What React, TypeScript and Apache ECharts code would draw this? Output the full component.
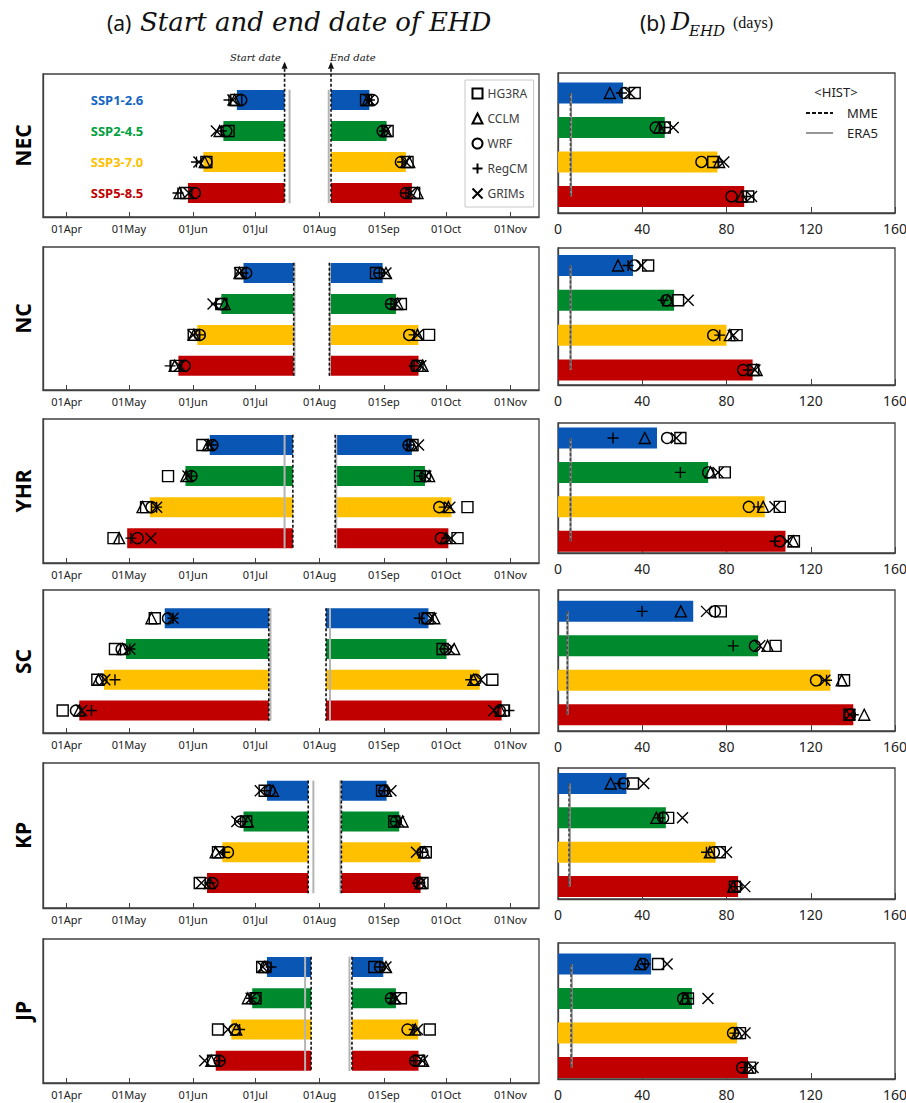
import React, { useEffect, useRef } from "react";
import * as echarts from "echarts";

const REGIONS = ["NEC", "NC", "YHR", "SC", "KP", "JP"];
const SCENARIOS = ["SSP1-2.6", "SSP2-4.5", "SSP3-7.0", "SSP5-8.5"];
const MODELS = ["HG3RA", "CCLM", "WRF", "RegCM", "GRIMs"];
const MONTH_TICKS = [91, 121, 152, 182, 213, 244, 274, 305];
const MONTH_LABELS = ["01Apr", "01May", "01Jun", "01Jul", "01Aug", "01Sep", "01Oct", "01Nov"];

// Historical (HIST) reference dates (day of year) and durations (days)
const HIST_START_MME = [196.1, 200.5, 200.1, 188.5, 207.5, 208.9];
const HIST_START_ERA5 = [198.5, 200.9, 196.1, 189.3, 210.0, 206.0];
const HIST_END_MME = [218.5, 217.7, 220.5, 216.1, 223.5, 228.6];
const HIST_END_ERA5 = [217.4, 218.0, 221.0, 218.0, 223.0, 227.4];
const HIST_DUR_MME = [5.9, 5.9, 5.9, 4.4, 5.2, 6.2];
const HIST_DUR_ERA5 = [6.2, 6.0, 6.0, 4.6, 5.6, 6.5];

// Future MME start / end (day of year) and duration, per region, per scenario
const START_MME = [
  [173.1, 166.6, 156.9, 149.5],
  [176.3, 165.6, 154.0, 144.9],
  [160.0, 148.3, 131.1, 120.2],
  [138.3, 119.6, 109.0, 97.1],
  [187.6, 176.3, 166.1, 158.7],
  [187.6, 180.5, 170.4, 162.9],
];
const END_MME = [
  [237.0, 245.3, 254.6, 257.5],
  [243.4, 249.8, 260.6, 260.7],
  [257.5, 263.8, 276.6, 275.1],
  [265.5, 274.2, 290.2, 300.8],
  [245.3, 251.4, 261.7, 261.7],
  [243.7, 249.8, 260.6, 260.7],
];
const DUR_MME = [
  [30.9, 50.7, 75.7, 88.4],
  [35.6, 55.1, 80.0, 92.4],
  [47.0, 71.3, 98.2, 108.0],
  [64.2, 95.0, 129.3, 140.2],
  [32.5, 51.2, 74.8, 85.5],
  [44.2, 63.6, 85.0, 90.2],
];

// Individual models: [scenario][HG3RA, CCLM, WRF, RegCM, GRIMs]
const NEC_START = [[172.8, 172.0, 175.2, 169.3, 171.2], [169.1, 164.8, 168.0, 165.6, 163.2], [158.4, 157.6, 158.4, 153.6, 154.8], [148.7, 145.5, 152.8, 144.7, 150.0]];
const NEC_END = [[235.4, 236.2, 238.6, 237.0, 237.0], [245.8, 245.0, 243.4, 244.2, 245.0], [255.4, 256.2, 252.2, 253.0, 254.6], [258.6, 260.2, 254.6, 254.6, 257.0]];
const NEC_DUR = [[36.4, 24.6, 31.7, 30.1, 34.1], [50.7, 48.0, 46.4, 50.7, 54.7], [73.7, 76.5, 68.1, 76.0, 78.7], [90.3, 87.1, 82.4, 89.5, 91.9]];

const NC_START = [[174.9, 174.4, 177.6, 176.0, 174.4], [165.6, 167.2, 165.6, 163.2, 161.6], [152.3, 152.4, 155.2, 155.2, 152.0], [143.9, 143.1, 147.9, 140.9, 145.5]];
const NC_END = [[240.2, 245.0, 241.8, 241.8, 245.0], [252.2, 250.6, 247.4, 247.4, 249.8], [265.8, 260.2, 256.2, 258.6, 260.2], [260.2, 262.6, 259.4, 258.6, 261.8]];
const NC_DUR = [[42.8, 28.5, 36.4, 33.3, 39.6], [57.0, 52.3, 51.5, 49.9, 61.8], [84.8, 81.6, 73.7, 76.8, 83.2], [92.7, 94.3, 87.9, 90.3, 93.5]];

const YHR_START = [[156.5, 159.2, 161.3, 160.8, 160.0], [139.9, 148.7, 151.2, 151.2, 149.5], [129.3, 127.6, 131.9, 134.4, 134.4], [113.6, 116.3, 125.2, 122.0, 131.6]];
const YHR_END = [[257.8, 257.5, 255.9, 256.5, 260.7], [261.4, 265.8, 263.9, 262.3, 264.2], [284.3, 275.1, 270.7, 273.1, 275.8], [279.5, 273.9, 271.5, 274.3, 276.3]];
const YHR_DUR = [[58.1, 41.2, 51.8, 26.1, 56.2], [79.2, 72.4, 71.3, 58.1, 76.0], [105.3, 97.4, 90.6, 95.0, 103.0], [112.0, 111.7, 105.3, 103.0, 108.8]];

const SC_START = [[133.5, 131.9, 139.9, 142.3, 142.3], [114.3, 118.0, 117.5, 121.5, 121.5], [105.8, 106.3, 107.8, 114.3, 109.4], [89.1, 97.1, 95.5, 103.0, 98.2]];
const SC_END = [[265.1, 268.3, 264.6, 261.1, 266.7], [272.3, 277.9, 273.9, 273.1, 275.5], [296.3, 287.2, 288.3, 285.9, 290.7], [301.9, 300.3, 299.9, 304.3, 297.1]];
const SC_DUR = [[77.3, 58.3, 74.5, 39.9, 70.5], [103.3, 99.5, 93.5, 83.2, 95.8], [135.8, 134.7, 122.5, 127.5, 126.7], [138.3, 145.4, 138.6, 140.2, 138.6]];

const KP_START = [[186.5, 190.5, 188.9, 187.2, 184.4], [177.6, 178.4, 174.7, 176.0, 173.1], [164.0, 162.9, 168.8, 167.2, 164.8], [155.2, 160.0, 161.3, 160.0, 156.0]];
const KP_END = [[243.1, 245.0, 244.2, 244.2, 247.4], [249.0, 253.0, 249.8, 250.1, 251.1], [264.2, 263.4, 262.6, 262.6, 259.7], [262.6, 261.8, 261.0, 260.2, 261.8]];
const KP_DUR = [[35.6, 25.0, 31.2, 29.3, 40.7], [52.3, 46.7, 49.9, 48.3, 59.1], [76.8, 72.1, 74.0, 70.5, 80.0], [84.0, 83.2, 84.8, 84.0, 88.7]];

const JP_START = [[185.3, 186.5, 187.2, 189.6, 185.6], [182.1, 178.4, 181.6, 180.0, 180.0], [164.0, 172.8, 172.0, 174.4, 168.8], [161.6, 160.8, 164.8, 164.8, 157.6]];
const JP_END = [[239.4, 245.0, 242.1, 242.1, 245.0], [252.2, 249.0, 247.4, 247.4, 249.8], [266.1, 259.1, 255.4, 258.6, 260.2], [261.0, 262.9, 259.1, 259.4, 262.6]];
const JP_DUR = [[47.5, 39.0, 40.4, 41.3, 51.8], [61.7, 60.3, 59.4, 61.7, 71.2], [86.4, 85.0, 83.1, 84.0, 88.8], [91.2, 90.2, 87.4, 88.8, 92.6]];

const MODEL_START = [NEC_START, NC_START, YHR_START, SC_START, KP_START, JP_START];
const MODEL_END = [NEC_END, NC_END, YHR_END, SC_END, KP_END, JP_END];
const MODEL_DUR = [NEC_DUR, NC_DUR, YHR_DUR, SC_DUR, KP_DUR, JP_DUR];

// ---------- styling / layout ----------
const BAR_COLORS = ["#0A56B4", "#008A2E", "#FFC000", "#C00000"];
const LABEL_COLORS = ["#1466C4", "#00A03E", "#FFC000", "#C00000"];
const SYMBOLS = ["rect", "triangle", "circle", "path://M5,0L5,10M0,5L10,5", "path://M0,0L10,10M10,0L0,10"];
const FONT = "'Noto Sans', 'Open Sans', sans-serif";
const BORDER = "#404040";

const X_MIN = 79.6;
const X_MAX = 318.8;
const L_LEFT = 43, L_WIDTH = 496;
const R_LEFT = 558, R_WIDTH = 337;
const L_TOPS = [74, 247, 419, 590, 763, 939];
const L_HEIGHTS = [143, 143, 144, 143, 145, 144];
const L_YMIN = [0.161, 0.16, 0.16, 0.08, 0.1, 0.105];
const L_YMAX = [4.774, 4.78, 4.8, 4.73, 4.81, 4.71];
const R_TOPS = [73, 248, 423, 590, 768, 943];
const R_HEIGHTS = [140, 137, 130, 141, 131, 136];
const R_YMIN = [0.42, 0.5, 0.565, 0.38, 0.55, 0.39];
const R_YMAX = [4.48, 4.43, 4.34, 4.47, 4.36, 4.33];

function barSeries(gi: number, items: number[][], h: number) {
  return {
    type: "custom",
    coordinateSystem: "cartesian2d",
    xAxisIndex: gi,
    yAxisIndex: gi,
    clip: false,
    silent: true,
    z: 1,
    encode: { x: [0, 1], y: 2 },
    data: items,
    renderItem: (_p: any, api: any) => {
      const row = api.value(2);
      const a = api.coord([api.value(0), row]);
      const b = api.coord([api.value(1), row]);
      return {
        type: "rect",
        shape: { x: a[0], y: a[1] - h / 2, width: b[0] - a[0], height: h },
        style: { fill: BAR_COLORS[row - 1] },
      };
    },
  };
}

function vlineSeries(gi: number, items: number[][], right: boolean) {
  return {
    type: "custom",
    coordinateSystem: "cartesian2d",
    xAxisIndex: gi,
    yAxisIndex: gi,
    clip: false,
    silent: true,
    z: 2,
    encode: { x: 0, y: [1, 2] },
    data: items,
    renderItem: (_p: any, api: any) => {
      const x = api.value(0);
      const kind = api.value(3);
      const ext = api.value(4);
      const a = api.coord([x, api.value(1)]);
      const b = api.coord([x, api.value(2)]);
      const top = a[1] - ext;
      const style =
        kind === 1
          ? { stroke: right ? "#4a4a4a" : "#111", lineWidth: 1.6, lineDash: [3, 2] }
          : { stroke: right ? "#8c8c8c" : "#b4b4b4", lineWidth: 2 };
      const children: any[] = [{ type: "line", shape: { x1: a[0], y1: top, x2: b[0], y2: b[1] }, style }];
      if (ext > 0) {
        children.push({
          type: "polygon",
          shape: { points: [[a[0], top - 2], [a[0] - 3, top + 5], [a[0] + 3, top + 5]] },
          style: { fill: "#111" },
        });
      }
      return { type: "group", children };
    },
  };
}

function scatterSeries(gi: number, m: number, points: number[][]) {
  return {
    type: "scatter",
    name: MODELS[m],
    xAxisIndex: gi,
    yAxisIndex: gi,
    symbol: SYMBOLS[m],
    symbolSize: 11,
    silent: true,
    z: 3,
    itemStyle: { color: "none", borderColor: "#000", borderWidth: 1.4, opacity: 1 },
    data: points,
  };
}

function buildOption() {
  const grid: any[] = [];
  const xAxis: any[] = [];
  const yAxis: any[] = [];
  const series: any[] = [];
  const graphic: any[] = [];

  REGIONS.forEach((region, r) => {
    const gl = r * 2;
    const gr = r * 2 + 1;
    grid.push({
      left: L_LEFT, top: L_TOPS[r], width: L_WIDTH, height: L_HEIGHTS[r],
      show: true, borderColor: BORDER, borderWidth: 1.3, containLabel: false, outerBoundsMode: "none",
    });
    grid.push({
      left: R_LEFT, top: R_TOPS[r], width: R_WIDTH, height: R_HEIGHTS[r],
      show: true, borderColor: BORDER, borderWidth: 1.3, containLabel: false, outerBoundsMode: "none",
    });
    xAxis.push({
      gridIndex: gl, type: "value", min: X_MIN, max: X_MAX,
      axisLine: { show: true, lineStyle: { color: BORDER, width: 1.3 } },
      axisTick: { show: true, inside: true, length: 5, customValues: MONTH_TICKS, lineStyle: { color: BORDER } },
      axisLabel: {
        customValues: MONTH_TICKS,
        formatter: (v: number) => MONTH_LABELS[MONTH_TICKS.indexOf(v)] ?? "",
        fontSize: 11, color: "#222", margin: 6, fontFamily: FONT,
      },
      splitLine: { show: false },
    });
    xAxis.push({
      gridIndex: gr, type: "value", min: 0, max: 160, interval: 40,
      axisLine: { show: true, lineStyle: { color: BORDER, width: 1.3 } },
      axisTick: { show: true, inside: true, length: 6, lineStyle: { color: BORDER } },
      axisLabel: { fontSize: 14, color: "#222", margin: 8, fontFamily: FONT },
      splitLine: { show: false },
    });
    yAxis.push({
      gridIndex: gl, type: "value", min: L_YMIN[r], max: L_YMAX[r], inverse: true,
      axisLine: { show: true, lineStyle: { color: BORDER, width: 1.3 } },
      axisTick: { show: false }, axisLabel: { show: false }, splitLine: { show: false },
    });
    yAxis.push({
      gridIndex: gr, type: "value", min: R_YMIN[r], max: R_YMAX[r], inverse: true,
      axisLine: { show: true, lineStyle: { color: BORDER, width: 1.3 } },
      axisTick: { show: false }, axisLabel: { show: false }, splitLine: { show: false },
    });

    // Left: start and end bars
    const leftBars: number[][] = [];
    SCENARIOS.forEach((_s, i) => {
      leftBars.push([START_MME[r][i], HIST_START_MME[r], i + 1]);
      leftBars.push([HIST_END_MME[r], END_MME[r][i], i + 1]);
    });
    series.push(barSeries(gl, leftBars, 20));
    const ext = r === 0 ? 26 : 0;
    series.push(
      vlineSeries(gl, [
        [HIST_START_ERA5[r], 0.67, 4.33, 0, 0],
        [HIST_END_ERA5[r], 0.67, 4.33, 0, 0],
        [HIST_START_MME[r], 0.67, 4.33, 1, ext],
        [HIST_END_MME[r], 0.67, 4.33, 1, ext],
      ], false)
    );
    MODELS.forEach((_m, m) => {
      const pts: number[][] = [];
      SCENARIOS.forEach((_s, i) => {
        pts.push([MODEL_START[r][i][m], i + 1]);
        pts.push([MODEL_END[r][i][m], i + 1]);
      });
      series.push(scatterSeries(gl, m, pts));
    });

    // Right: durations
    series.push(barSeries(gr, SCENARIOS.map((_s, i) => [0, DUR_MME[r][i], i + 1]), 21));
    series.push(
      vlineSeries(gr, [
        [HIST_DUR_ERA5[r], 1, 4, 0, 0],
        [HIST_DUR_MME[r], 1, 4, 1, 0],
      ], true)
    );
    MODELS.forEach((_m, m) => {
      series.push(scatterSeries(gr, m, SCENARIOS.map((_s, i) => [MODEL_DUR[r][i][m], i + 1])));
    });

    // region label
    graphic.push({
      type: "text", x: 23, y: L_TOPS[r] + L_HEIGHTS[r] / 2, rotation: Math.PI / 2,
      style: { text: region, font: `bold 21px ${FONT}`, fill: "#000", align: "center", verticalAlign: "middle" },
    });
  });

  // scenario labels in the first panel
  SCENARIOS.forEach((s, i) => {
    const y = L_TOPS[0] + ((i + 1 - L_YMIN[0]) / (L_YMAX[0] - L_YMIN[0])) * L_HEIGHTS[0];
    graphic.push({
      type: "text", x: 117, y,
      style: { text: s, font: `bold 13px ${FONT}`, fill: LABEL_COLORS[i], align: "center", verticalAlign: "middle" },
    });
  });

  // titles
  graphic.push(
    { type: "text", x: 107, y: 23, style: { text: "(a)", font: `21px ${FONT}`, fill: "#111", verticalAlign: "middle" } },
    { type: "text", x: 140, y: 22, style: { text: "Start and end date of EHD", font: "italic 26px 'DejaVu Serif'", fill: "#111", verticalAlign: "middle" } },
    { type: "text", x: 640, y: 23, style: { text: "(b)", font: `21px ${FONT}`, fill: "#111", verticalAlign: "middle" } },
    { type: "text", x: 671, y: 22, style: { text: "D", font: "italic 24px 'DejaVu Serif'", fill: "#111", verticalAlign: "middle" } },
    { type: "text", x: 689, y: 31, style: { text: "EHD", font: "italic 15px 'DejaVu Serif'", fill: "#111", verticalAlign: "middle" } },
    { type: "text", x: 733, y: 22, style: { text: "(days)", font: "16px 'Liberation Serif'", fill: "#111", verticalAlign: "middle" } },
    { type: "text", x: 281, y: 57, style: { text: "Start date", font: "italic 10px 'DejaVu Serif'", fill: "#111", align: "right", verticalAlign: "middle" } },
    { type: "text", x: 330, y: 57, style: { text: "End date", font: "italic 10px 'DejaVu Serif'", fill: "#111", align: "left", verticalAlign: "middle" } },
    // HIST legend in right panel
    { type: "text", x: 836, y: 92, style: { text: "<HIST>", font: `13px ${FONT}`, fill: "#222", align: "center", verticalAlign: "middle" } },
    { type: "line", shape: { x1: 806, y1: 113, x2: 833, y2: 113 }, style: { stroke: "#111", lineWidth: 1.8, lineDash: [4, 2] } },
    { type: "text", x: 847, y: 113, style: { text: "MME", font: `13px ${FONT}`, fill: "#222", verticalAlign: "middle" } },
    { type: "line", shape: { x1: 806, y1: 133, x2: 833, y2: 133 }, style: { stroke: "#8c8c8c", lineWidth: 1.8 } },
    { type: "text", x: 847, y: 133, style: { text: "ERA5", font: `13px ${FONT}`, fill: "#222", verticalAlign: "middle" } }
  );

  return {
    animation: false,
    backgroundColor: "#fff",
    textStyle: { fontFamily: FONT },
    grid,
    xAxis,
    yAxis,
    legend: {
      data: MODELS,
      orient: "vertical",
      left: 465,
      top: 80,
      itemWidth: 10,
      itemHeight: 10,
      itemGap: 10,
      padding: [6, 6, 6, 5],
      borderColor: "#c8c8c8",
      borderWidth: 1,
      backgroundColor: "#fff",
      selectedMode: false,
      textStyle: { fontSize: 12, color: "#404040", lineHeight: 14, fontFamily: FONT },
    },
    series,
    graphic,
  };
}

export default function App() {
  const ref = useRef<HTMLDivElement>(null);
  useEffect(() => {
    if (!ref.current) return;
    const chart = echarts.init(ref.current, null, { renderer: "svg" });
    chart.setOption(buildOption() as any);
    return () => chart.dispose();
  }, []);
  return (
    <div
      ref={ref}
      style={{ position: "absolute", left: 0, top: 0, width: 906, height: 1103, background: "#fff" }}
    />
  );
}
